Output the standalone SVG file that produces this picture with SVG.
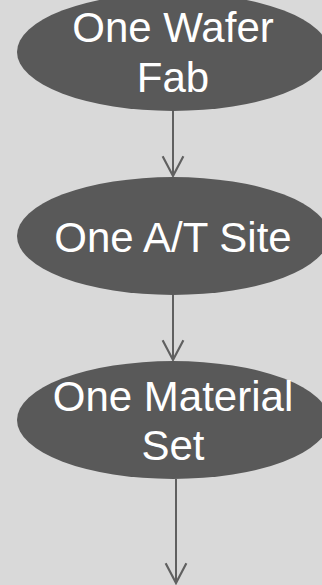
<svg xmlns="http://www.w3.org/2000/svg" width="322" height="585" viewBox="0 0 322 585">
  <style>
    .node { fill: #595959; }
    .label { fill: #ffffff; font-family: "Liberation Sans", Arial, sans-serif; font-size: 42px; text-anchor: middle; }
    .edge { stroke: #606060; stroke-width: 2; fill: none; }
  </style>
  <defs>
    <marker id="vee" markerWidth="24" markerHeight="24" refX="19" refY="10" viewBox="0 0 22 20" markerUnits="userSpaceOnUse" orient="auto">
      <path d="M1,0.5 L19,10 L1,19.5" fill="none" stroke="#606060" stroke-width="2"/>
    </marker>
  </defs>
  <rect width="322" height="585" fill="#d9d9d9"/>

  <g id="connectors">
    <line class="edge" x1="173" y1="111" x2="173" y2="176" marker-end="url(#vee)"/>
    <line class="edge" x1="173" y1="295" x2="173" y2="360" marker-end="url(#vee)"/>
    <line class="edge" x1="176" y1="479" x2="176" y2="583" marker-end="url(#vee)"/>
  </g>

  <g id="wafer-fab">
    <ellipse class="node" cx="173" cy="52" rx="156" ry="59"/>
    <text class="label" x="173" y="42">One Wafer</text>
    <text class="label" x="173" y="92">Fab</text>
  </g>

  <g id="at-site">
    <ellipse class="node" cx="173" cy="236" rx="156" ry="59"/>
    <text class="label" x="173" y="252">One A/T Site</text>
  </g>

  <g id="material-set">
    <ellipse class="node" cx="173" cy="420" rx="156" ry="59"/>
    <text class="label" x="173" y="411">One Material</text>
    <text class="label" x="173" y="460">Set</text>
  </g>
</svg>
